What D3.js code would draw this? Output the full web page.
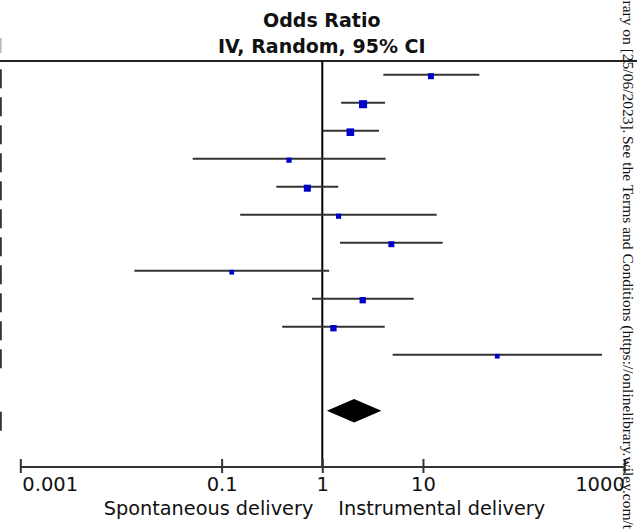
<!DOCTYPE html>
<html>
<head>
<meta charset="utf-8">
<script src="https://cdn.jsdelivr.net/npm/d3@7"></script>
<style>
  html, body { margin: 0; padding: 0; background: #fff; overflow: hidden; }
  svg { display: block; }
</style>
</head>
<body>
<svg id="chart" width="637" height="529"></svg>
<script>
// ---- data ----
const studyOR    = [12.0, 2.54, 1.90, 0.467, 0.71, 1.45, 4.85, 0.126, 2.52, 1.29, 54.7];
const studyLower = [4.04, 1.54, 1.01, 0.0516, 0.349, 0.153, 1.50, 0.0136, 0.79, 0.40, 5.0];
const studyUpper = [36.3, 4.20, 3.66, 4.26, 1.44, 13.7, 15.7, 1.17, 8.09, 4.17, 600];
const studyWeight = [8, 14.5, 13, 6, 11, 6, 8, 5, 9, 9, 5];
const pooledOR = [2.07];
const pooledLower = [1.11];
const pooledUpper = [3.86];
const tickValues = [0.001, 0.1, 1, 10, 1000];
const tickLabels = ["0.001", "0.1", "1", "10", "1000"];
const titleLines = ["Odds Ratio", "IV, Random, 95% CI"];
const favoursLeft = "Spontaneous delivery";
const favoursRight = "Instrumental delivery";
const watermarkA = "Wiley Online Library on [25/06/2023].";
const watermarkB = "See the Terms and Conditions (https://onlinelibrary.wiley.com/terms-and-conditions) on Wiley Online Library for rules of use";

// ---- layout ----
const svg = d3.select("#chart");
const W = 637, H = 529;
const x = d3.scaleLog().domain([0.001, 1000]).range([20.3, 624.3]);
const rowY = d3.scaleLinear().domain([0, 1]).range([74.7, 102.7]); // 28px per row
const pooledRow = studyOR.length + 1;
const axisY = 466.5;
const sq = d3.scaleSqrt().domain([0, 15]).range([0, 8.2]);
const font = "'DejaVu Sans', 'Lucida Grande', sans-serif";

// titles
svg.selectAll("text.title").data(titleLines).join("text")
  .attr("class", "title")
  .attr("x", x(1) - 0.5)
  .attr("y", (d, i) => 26.7 + i * 26.6)
  .attr("text-anchor", "middle")
  .attr("font-family", font)
  .attr("font-weight", "bold")
  .attr("font-size", 19)
  .attr("fill", "#111")
  .text(d => d);

// left-edge fragments of cut-off table
svg.append("rect").attr("x", 0).attr("y", 38).attr("width", 1.6).attr("height", 15).attr("fill", "#bbb");
svg.selectAll("rect.edge").data(studyOR).join("rect")
  .attr("class", "edge")
  .attr("x", 0).attr("width", 1.8)
  .attr("y", (d, i) => rowY(i) - 5.4).attr("height", 19)
  .attr("fill", "#333");
svg.append("rect").attr("x", 0).attr("width", 1.8)
  .attr("y", rowY(pooledRow) + 1).attr("height", 19).attr("fill", "#333");

// header rule
svg.append("line").attr("x1", 0).attr("x2", W).attr("y1", 61).attr("y2", 61)
  .attr("stroke", "#222").attr("stroke-width", 2);

// no-effect line
svg.append("line").attr("x1", x(1)).attr("x2", x(1)).attr("y1", 61).attr("y2", axisY)
  .attr("stroke", "#000").attr("stroke-width", 2);

// CI lines
svg.selectAll("line.ci").data(studyOR).join("line")
  .attr("class", "ci")
  .attr("x1", (d, i) => x(studyLower[i]))
  .attr("x2", (d, i) => x(studyUpper[i]))
  .attr("y1", (d, i) => rowY(i)).attr("y2", (d, i) => rowY(i))
  .attr("stroke", "#333").attr("stroke-width", 2);

// squares
svg.selectAll("rect.pt").data(studyOR).join("rect")
  .attr("class", "pt")
  .attr("x", (d, i) => x(d) - sq(studyWeight[i]) / 2)
  .attr("y", (d, i) => rowY(i) + 1.5 - sq(studyWeight[i]) / 2)
  .attr("width", (d, i) => sq(studyWeight[i]))
  .attr("height", (d, i) => sq(studyWeight[i]))
  .attr("fill", "#0000c8");

// pooled diamond
svg.selectAll("path.diamond").data(pooledOR).join("path")
  .attr("class", "diamond")
  .attr("d", (d, i) => {
    const y = rowY(pooledRow), h = 11.7;
    return `M${x(pooledLower[i])},${y}L${x(d)},${y - h}L${x(pooledUpper[i])},${y}L${x(d)},${y + h}Z`;
  })
  .attr("fill", "#000");

// axis
const axis = d3.axisBottom(x).tickValues(tickValues)
  .tickFormat((d, i) => tickLabels[i]).tickSizeInner(7).tickSizeOuter(0);
const gAxis = svg.append("g").attr("transform", `translate(0,${axisY})`).call(axis);
gAxis.select(".domain").attr("stroke", "#333").attr("stroke-width", 2);
gAxis.selectAll(".tick line").attr("y1", -7.5).attr("y2", 6.5).attr("stroke", "#333").attr("stroke-width", 2);
gAxis.selectAll(".tick text")
  .attr("y", 24).attr("dy", null)
  .attr("font-family", font).attr("font-size", 19.5).attr("fill", "#111")
  .attr("text-anchor", (d, i) => i === 0 ? "start" : (i === tickValues.length - 1 ? "end" : "middle"))
  .attr("dx", (d, i) => i === 0 ? 1.5 : 0);
gAxis.attr("font-family", null).attr("font-size", null);

// favours labels
svg.append("text").attr("x", x(1) - 9).attr("y", 515).attr("text-anchor", "end")
  .attr("font-family", font).attr("font-size", 19.3).attr("fill", "#111").text(favoursLeft);
svg.append("text").attr("x", x(1) + 16).attr("y", 515).attr("text-anchor", "start")
  .attr("font-family", font).attr("font-size", 19.3).attr("fill", "#111").text(favoursRight);

// watermark (rotated)
const wm = svg.append("g").attr("transform", "translate(623,0) rotate(90)");
wm.append("text").attr("x", 133.5).attr("y", 0).attr("text-anchor", "end")
  .attr("font-family", "'Liberation Serif', 'Times New Roman', serif").attr("font-size", 15.5)
  .attr("fill", "#111").text(watermarkA);
wm.append("text").attr("x", 136).attr("y", 0).attr("text-anchor", "start")
  .attr("font-family", "'Liberation Serif', 'Times New Roman', serif").attr("font-size", 15.5)
  .attr("fill", "#111").text(watermarkB);
</script>
</body>
</html>
